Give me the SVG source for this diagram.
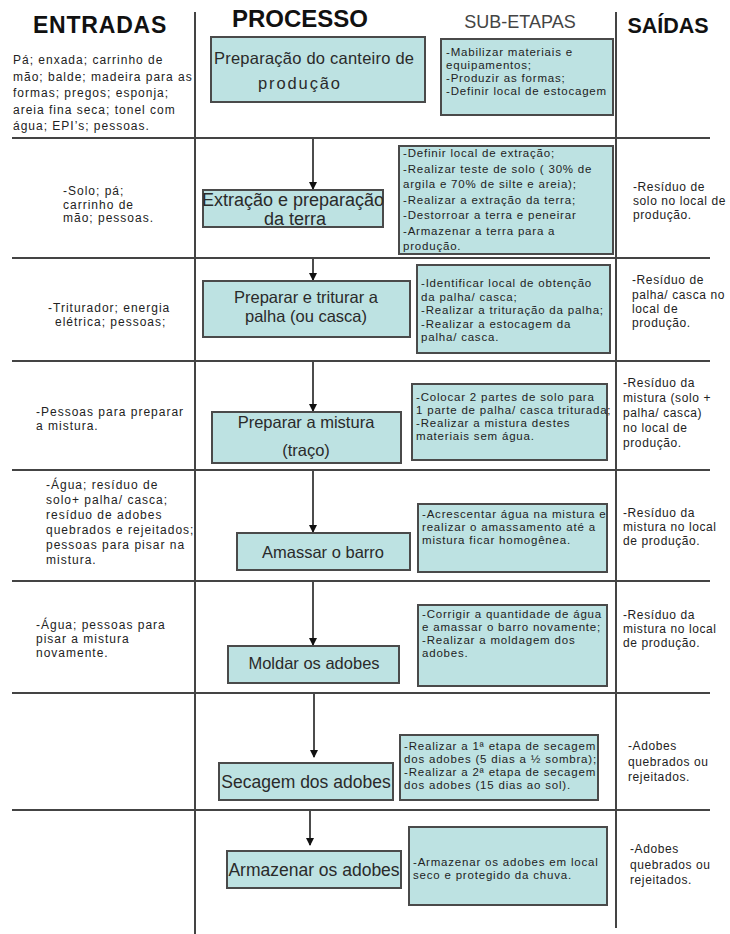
<svg xmlns="http://www.w3.org/2000/svg" width="730" height="934" viewBox="0 0 730 934">
<style>
text{font-family:"Liberation Sans",Arial,sans-serif}
.bg{fill:#ffffff}
.ln{stroke:#444;stroke-width:2;fill:none}
.box{fill:#bde2e2;stroke:#4a4a4a;stroke-width:2}
.hd{font-weight:bold;fill:#111}
.pt{font-size:16.5px;fill:#2a2a2a}
.st{font-size:11.5px;letter-spacing:0.8px;fill:#222}
.io{font-size:12px;letter-spacing:1px;fill:#222}
.os{font-size:12px;letter-spacing:0.6px;fill:#222}
.ar{stroke:#111;stroke-width:1.5;fill:none}
</style>
<defs>
<marker id="ah" markerWidth="8" markerHeight="8" refX="7" refY="4" orient="auto" markerUnits="userSpaceOnUse">
<path d="M0,0 L8,4 L0,8 z" fill="#111"/>
</marker>
</defs>
<rect class="bg" x="0" y="0" width="730" height="934"/>

<g id="headers">
<text class="hd" x="100" y="33" font-size="23" letter-spacing="0.8" text-anchor="middle">ENTRADAS</text>
<text class="hd" x="300" y="27" font-size="24" text-anchor="middle">PROCESSO</text>
<text x="520" y="28" font-size="18" fill="#444" text-anchor="middle">SUB-ETAPAS</text>
<text class="hd" x="668" y="33" font-size="21.5" text-anchor="middle">SAÍDAS</text>
</g>

<g id="grid">
<line class="ln" x1="195" y1="12" x2="195" y2="934"/>
<line class="ln" x1="616" y1="12" x2="616" y2="928"/>
<line class="ln" x1="12" y1="138" x2="710" y2="138"/>
<line class="ln" x1="12" y1="258" x2="710" y2="258"/>
<line class="ln" x1="12" y1="361" x2="710" y2="361"/>
<line class="ln" x1="12" y1="470" x2="710" y2="470"/>
<line class="ln" x1="12" y1="581" x2="710" y2="581"/>
<line class="ln" x1="12" y1="693" x2="710" y2="693"/>
<line class="ln" x1="12" y1="810" x2="710" y2="810"/>
</g>

<g id="connectors">
<line class="ar" x1="313" y1="139" x2="313" y2="189" marker-end="url(#ah)"/>
<line class="ar" x1="313" y1="259" x2="313" y2="280" marker-end="url(#ah)"/>
<line class="ar" x1="313" y1="362" x2="313" y2="411" marker-end="url(#ah)"/>
<line class="ar" x1="313" y1="471" x2="313" y2="532" marker-end="url(#ah)"/>
<line class="ar" x1="313" y1="582" x2="313" y2="645" marker-end="url(#ah)"/>
<line class="ar" x1="314" y1="694" x2="314" y2="757" marker-end="url(#ah)"/>
<line class="ar" x1="310" y1="811" x2="310" y2="845" marker-end="url(#ah)"/>
</g>

<g id="in1"><text class="io" x="13" y="64">Pá; enxada; carrinho de</text><text class="io" x="13" y="80.5">mão; balde; madeira para as</text><text class="io" x="13" y="97">formas; pregos; esponja;</text><text class="io" x="13" y="113.5">areia fina seca; tonel com</text><text class="io" x="13" y="130">água; EPI’s; pessoas.</text></g>
<g id="p1"><rect class="box" x="211" y="37" width="214" height="65"/><text class="pt" x="214" y="64" textLength="200">Preparação do canteiro de</text><text class="pt" x="258" y="89" textLength="82">produção</text></g>
<g id="s1"><rect class="box" x="441" y="39" width="172" height="76"/><text class="st" x="446" y="56">-Mabilizar materiais e</text><text class="st" x="446" y="69">equipamentos;</text><text class="st" x="446" y="82">-Produzir as formas;</text><text class="st" x="446" y="95">-Definir local de estocagem</text></g>

<g id="in2"><text class="io" x="63" y="195">-Solo; pá;</text><text class="io" x="63" y="208.5">carrinho de</text><text class="io" x="63" y="222">mão; pessoas.</text></g>
<g id="p2"><rect class="box" x="203" y="190" width="180" height="37"/><text x="293" y="206" font-size="18" fill="#2a2a2a" text-anchor="middle">Extração e preparação</text><text x="295" y="224.5" font-size="18" fill="#2a2a2a" text-anchor="middle">da terra</text></g>
<g id="s2"><rect class="box" x="399" y="146" width="214" height="108"/><text class="st" x="403" y="157">-Definir local de extração;</text><text class="st" x="403" y="172.5">-Realizar teste de solo ( 30% de</text><text class="st" x="403" y="188">argila e 70% de silte e areia);</text><text class="st" x="403" y="203.5">-Realizar a extração da terra;</text><text class="st" x="403" y="219">-Destorroar a terra e peneirar</text><text class="st" x="403" y="234.5">-Armazenar a terra para a</text><text class="st" x="403" y="250">produção.</text></g>
<g id="o2"><text class="os" x="633" y="191">-Resíduo de</text><text class="os" x="633" y="205">solo no local de</text><text class="os" x="633" y="219">produção.</text></g>

<g id="in3"><text class="io" x="48" y="312">-Triturador; energia</text><text class="io" x="55" y="325.5">elétrica; pessoas;</text></g>
<g id="p3"><rect class="box" x="203" y="281" width="207" height="56"/><text class="pt" x="306" y="303" text-anchor="middle">Preparar e triturar a</text><text class="pt" x="306" y="322" text-anchor="middle">palha (ou casca)</text></g>
<g id="s3"><rect class="box" x="417" y="265" width="193" height="88"/><text class="st" x="421" y="287">-Identificar local de obtenção</text><text class="st" x="421" y="300.5">da palha/ casca;</text><text class="st" x="421" y="314">-Realizar a trituração da palha;</text><text class="st" x="421" y="327.5">-Realizar a estocagem da</text><text class="st" x="421" y="341">palha/ casca.</text></g>
<g id="o3"><text class="os" x="632" y="284">-Resíduo de</text><text class="os" x="632" y="299">palha/ casca no</text><text class="os" x="632" y="313">local de</text><text class="os" x="632" y="327">produção.</text></g>

<g id="in4"><text class="io" x="36" y="416">-Pessoas para preparar</text><text class="io" x="36" y="429.5">a mistura.</text></g>
<g id="p4"><rect class="box" x="212" y="412" width="189" height="51"/><text class="pt" x="306" y="428" text-anchor="middle">Preparar a mistura</text><text class="pt" x="306" y="456" text-anchor="middle">(traço)</text></g>
<g id="s4"><rect class="box" x="412" y="384" width="195" height="76"/><text class="st" x="416" y="401">-Colocar 2 partes de solo para</text><text class="st" x="416" y="414">1 parte de palha/ casca triturada;</text><text class="st" x="416" y="427">-Realizar a mistura destes</text><text class="st" x="416" y="440">materiais sem água.</text></g>
<g id="o4"><text class="os" x="623" y="387">-Resíduo da</text><text class="os" x="623" y="402">mistura (solo +</text><text class="os" x="623" y="417">palha/ casca)</text><text class="os" x="623" y="432">no local de</text><text class="os" x="623" y="447">produção.</text></g>

<g id="in5"><text class="io" x="46" y="489">-Água; resíduo de</text><text class="io" x="46" y="504">solo+ palha/ casca;</text><text class="io" x="46" y="519">resíduo de adobes</text><text class="io" x="46" y="534">quebrados e rejeitados;</text><text class="io" x="46" y="549">pessoas para pisar na</text><text class="io" x="46" y="564">mistura.</text></g>
<g id="p5"><rect class="box" x="237" y="533" width="173" height="37"/><text class="pt" x="323" y="558" text-anchor="middle">Amassar o barro</text></g>
<g id="s5"><rect class="box" x="418" y="504" width="189" height="68"/><text class="st" x="422" y="518">-Acrescentar água na mistura e</text><text class="st" x="422" y="531">realizar o amassamento até a</text><text class="st" x="422" y="544">mistura ficar homogênea.</text></g>
<g id="o5"><text class="os" x="623" y="517">-Resíduo da</text><text class="os" x="623" y="531">mistura no local</text><text class="os" x="623" y="545">de produção.</text></g>

<g id="in6"><text class="io" x="36" y="629">-Água; pessoas para</text><text class="io" x="36" y="643">pisar a mistura</text><text class="io" x="36" y="657">novamente.</text></g>
<g id="p6"><rect class="box" x="228" y="646" width="171" height="37"/><text class="pt" x="314" y="669" text-anchor="middle">Moldar os adobes</text></g>
<g id="s6"><rect class="box" x="418" y="605" width="189" height="81"/><text class="st" x="422" y="618">-Corrigir a quantidade de água</text><text class="st" x="422" y="631">e amassar o barro novamente;</text><text class="st" x="422" y="644">-Realizar a moldagem dos</text><text class="st" x="422" y="657">adobes.</text></g>
<g id="o6"><text class="os" x="623" y="619">-Resíduo da</text><text class="os" x="623" y="633">mistura no local</text><text class="os" x="623" y="647">de produção.</text></g>

<g id="p7"><rect class="box" x="219" y="763" width="174" height="37"/><text x="306" y="788" font-size="17.5" fill="#2a2a2a" text-anchor="middle">Secagem dos adobes</text></g>
<g id="s7"><rect class="box" x="400" y="735" width="198" height="65"/><text class="st" x="404" y="750">-Realizar a 1ª etapa de secagem</text><text class="st" x="404" y="763">dos adobes (5 dias a ½ sombra);</text><text class="st" x="404" y="776">-Realizar a 2ª etapa de secagem</text><text class="st" x="404" y="789">dos adobes (15 dias ao sol).</text></g>
<g id="o7"><text class="os" x="628" y="750">-Adobes</text><text class="os" x="628" y="766">quebrados ou</text><text class="os" x="628" y="781">rejeitados.</text></g>

<g id="p8"><rect class="box" x="227" y="851" width="174" height="37"/><text x="314" y="876" font-size="17.5" fill="#2a2a2a" text-anchor="middle">Armazenar os adobes</text></g>
<g id="s8"><rect class="box" x="409" y="827" width="198" height="78"/><text class="st" x="413" y="866">-Armazenar os adobes em local</text><text class="st" x="413" y="879">seco e protegido da chuva.</text></g>
<g id="o8"><text class="os" x="630" y="853">-Adobes</text><text class="os" x="630" y="869">quebrados ou</text><text class="os" x="630" y="884">rejeitados.</text></g>
</svg>
